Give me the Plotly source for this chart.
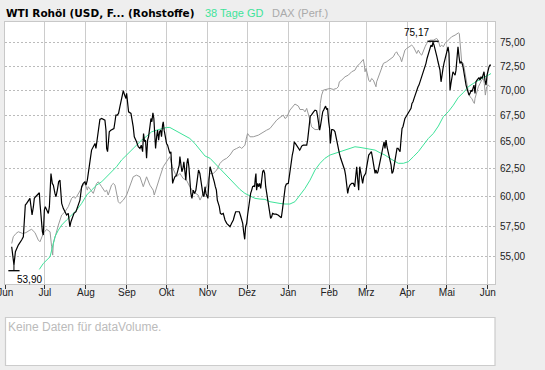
import numpy as np
import pandas as pd
import plotly.graph_objects as go

START = pd.Timestamp("2005-06-01")

# --- WTI Rohöl (Schlusskurse), Tage seit 01.06.2005 ---
wti_tage = [4.9,5.6,6.6,7.7,9.9,12.4,13.7,14.5,15.2,16.2,17.5,18.7,19.5,20.3,21.3,22.0,23.0,24.3,25.8,26.3,27.1,28.1,28.8,29.6,30.3,31.3,32.6,33.4,33.9,34.6,35.6,36.4,37.6,38.4,39.4,40.4,41.4,41.9,42.7,43.9,45.2,46.4,47.7,48.9,49.7,51.0,52.0,53.5,55.3,56.5,57.8,59.0,60.3,61.1,62.1,62.8,63.6,64.6,65.3,66.6,67.9,68.6,69.1,69.9,70.9,71.6,72.9,74.2,75.4,76.2,76.7,77.4,78.2,78.7,79.9,81.2,82.2,83.0,83.7,84.7,85.7,86.7,87.5,88.3,89.3,90.3,91.3,91.8,92.5,93.3,95.1,95.8,96.8,97.6,98.3,99.3,100.6,101.9,102.9,103.9,104.6,105.4,106.1,106.9,107.7,108.4,109.4,110.2,110.9,111.7,112.4,112.9,113.7,114.5,115.2,116.0,116.7,117.5,118.2,119.0,119.5,120.2,121.0,122.0,122.8,123.8,124.5,125.3,126.1,126.6,127.3,128.3,129.6,130.8,131.6,132.1,132.8,133.6,134.4,135.1,135.9,136.6,137.4,138.1,138.9,139.6,140.4,141.2,142.2,143.2,144.2,145.2,146.2,147.2,
            148.1,148.8,149.6,150.3,151.1,151.8,152.6,153.3,154.1,154.9,155.6,156.4,157.4,158.1,158.9,159.7,160.4,161.2,161.9,162.7,163.7,164.9,166.2,167.5,168.7,170.0,171.2,172.5,173.5,174.3,175.5,177.0,177.8,178.8,179.6,180.3,181.1,181.8,182.6,183.3,184.1,184.9,185.6,186.4,187.1,187.9,188.6,189.1,189.6,190.1,190.9,191.7,192.4,193.2,193.9,194.7,195.4,196.2,197.0,197.7,198.5,199.2,200.0,200.7,201.5,202.2,203.3,204.8,206.3,207.8,208.8,209.6,210.3,211.1,211.8,212.6,214.1,214.8,215.6,216.4,217.1,217.9,218.6,219.4,220.4,221.1,221.9,222.7,223.4,224.2,225.4,228.0,228.7,229.5,230.0,230.7,231.5,232.2,233.2,234.3,235.5,236.3,237.0,237.8,238.5,239.3,240.1,240.8,241.6,242.3,243.1,243.8,244.6,245.3,245.9,246.4,246.9,247.6,248.6,249.4,250.1,250.9,251.6,252.7,253.7,254.7,255.7,256.7,257.4,258.2,259.0,259.7,260.7,
            262.0,263.3,264.3,265.0,265.8,266.6,267.3,268.1,268.8,269.6,270.3,271.1,271.9,272.6,273.4,274.1,274.9,275.9,276.9,277.6,278.4,279.2,279.7,280.4,281.2,281.9,282.7,283.4,284.2,285.0,285.7,286.5,287.2,288.0,288.7,289.5,290.3,291.0,291.8,292.5,293.3,294.0,294.8,295.5,296.3,297.1,297.8,298.6,299.3,300.1,300.8,301.6,302.3,303.1,303.9,304.6,305.4,306.1,306.9,307.6,308.4,309.2,309.9,310.7,311.4,312.2,312.9,313.7,314.4,315.2,316.0,316.7,317.5,318.2,319.0,319.7,320.5,321.3,322.0,322.8,323.5,324.3,325.0,325.8,326.5,327.3,328.1,328.8,329.6,330.3,331.1,331.8,332.6,333.3,334.1,334.9,335.6,336.4,337.1,337.9,338.6,339.4,340.2,340.9,341.7,342.4,343.2,343.9,344.7,345.5,346.2,347.0,347.7,348.5,349.2,350.0,350.7,351.5,352.3,353.0,353.8,354.5,355.3,356.0,356.8,357.5,358.3,359.1,359.8,360.6,361.3,362.1,362.8,363.6,364.4,365.1,365.9,366.6,367.4]
wti_kurs = [55.80,55.00,54.35,55.40,55.94,56.35,56.62,58.01,59.28,59.42,59.71,59.86,59.14,58.43,59.14,59.86,60.00,60.15,60.35,59.42,58.29,57.03,56.76,58.85,59.14,58.85,58.57,59.14,60.88,62.06,61.17,61.02,60.29,60.00,60.58,61.31,61.46,60.29,59.42,59.00,58.71,58.43,58.57,57.45,57.87,58.29,58.57,58.71,59.28,59.71,60.88,61.17,61.31,61.02,61.46,62.21,62.97,63.59,64.20,64.51,64.82,64.35,64.82,65.76,66.89,67.12,67.21,67.12,67.05,66.08,64.35,64.05,65.13,65.92,66.08,66.14,66.24,66.89,67.54,67.54,67.70,68.36,68.86,69.19,69.98,69.53,69.19,69.70,68.86,67.86,67.70,67.21,66.40,65.45,65.29,64.98,64.51,64.35,64.66,64.05,65.76,64.98,65.13,63.44,65.13,65.45,66.40,67.21,66.89,67.77,67.21,66.08,64.35,65.45,66.08,65.13,65.92,66.08,65.45,66.57,66.89,66.08,65.45,64.82,64.66,64.20,63.89,64.05,62.37,61.17,61.46,61.76,61.91,62.37,62.82,63.59,63.12,62.21,62.51,63.12,62.21,61.46,62.97,63.44,62.67,61.46,60.29,59.86,60.58,60.29,60.58,61.46,62.37,62.06,
            61.17,60.88,60.15,60.00,60.88,60.29,60.00,59.86,61.46,62.67,62.37,62.06,61.76,61.31,60.88,60.58,59.71,59.42,59.14,58.57,58.49,58.57,58.01,57.73,57.59,57.45,57.73,58.01,58.43,58.71,58.71,58.71,58.43,58.01,57.73,57.03,56.41,57.45,57.73,58.43,59.28,59.86,60.29,60.58,60.88,60.94,60.88,61.61,62.06,60.58,61.17,60.88,61.17,60.73,61.61,62.21,62.37,62.06,60.88,60.29,59.71,59.14,58.71,58.15,58.29,58.57,58.51,58.51,58.43,58.29,58.20,58.85,59.71,60.29,60.88,61.11,61.17,61.76,62.67,63.28,63.74,64.20,64.98,64.82,64.66,64.51,64.35,64.20,64.35,64.57,64.66,64.66,65.13,66.40,67.21,67.44,67.54,67.70,67.86,68.03,67.96,67.37,66.73,66.08,66.57,67.37,67.86,68.03,68.20,68.43,68.09,68.20,66.89,66.24,64.82,65.45,66.14,66.14,66.08,65.92,65.45,64.82,64.35,63.89,63.44,63.12,62.82,62.37,61.91,60.88,60.29,60.73,61.02,
            61.17,61.17,60.88,61.76,62.67,61.46,60.58,62.67,62.22,61.61,61.17,61.76,61.91,62.07,62.67,63.28,63.74,63.89,64.05,63.59,63.13,62.67,62.07,62.37,62.07,62.22,62.67,63.13,63.59,64.05,64.51,64.98,64.36,65.13,64.51,64.05,63.59,63.28,62.83,62.07,62.22,62.67,63.28,64.05,64.36,64.36,64.20,64.05,65.13,66.25,66.41,66.89,67.21,67.38,67.54,67.70,67.87,68.03,68.20,68.69,68.86,69.20,69.53,69.87,70.20,70.37,70.54,70.88,71.22,71.57,71.74,72.09,72.45,72.80,73.32,73.67,74.03,74.39,74.75,74.57,75.08,74.75,74.21,73.85,73.50,72.97,72.45,72.09,70.88,71.74,72.27,72.80,73.32,73.85,74.21,74.57,73.85,70.03,70.71,71.74,71.92,71.74,71.57,72.09,73.15,74.57,73.50,72.80,72.97,72.80,72.45,71.57,71.05,70.54,70.20,69.87,69.53,69.70,70.03,69.87,70.37,70.54,69.70,70.88,71.05,71.22,71.32,71.05,71.40,71.22,71.74,71.92,71.05,70.54,71.57,72.09,72.45,72.62,72.62]

# --- 38 Tage GD ---
gd_tage = [25.8,28.8,33.9,35.6,37.6,40.2,42.7,46.4,50.2,54.0,57.8,61.6,65.3,69.1,72.9,76.7,80.4,84.2,88.0,91.8,95.6,99.3,103.1,106.9,110.7,114.5,118.2,122.0,124.5,128.3,132.1,135.9,139.6,143.4,147.3,151.1,154.9,158.6,162.4,166.2,170.0,173.8,177.5,181.3,185.1,188.9,192.7,196.4,200.2,204.0,207.8,211.6,215.3,219.1,222.9,226.7,230.5,234.3,238.0,241.8,245.6,249.4,253.2,257.0,260.8,264.5,268.3,272.1,275.9,279.7,283.4,287.2,291.0,294.8,297.3,301.1,304.9,308.7,312.4,316.2,320.0,323.8,327.6,331.3,335.1,338.9,342.7,346.5,350.2,354.0,357.8,361.6,365.4,367.4]
gd_kurs = [54.00,54.47,55.00,55.80,56.62,57.17,57.59,58.01,58.43,58.85,59.42,60.15,60.58,61.02,61.31,61.76,62.21,62.67,63.28,63.74,64.20,64.66,65.13,65.50,65.92,66.08,66.24,66.34,66.34,66.08,65.76,65.50,65.29,64.82,64.25,63.65,63.44,62.97,62.51,62.06,61.61,61.17,60.64,60.29,60.06,59.86,59.80,59.77,59.57,59.48,59.42,59.37,59.37,59.57,60.15,60.73,61.46,62.37,62.97,63.44,63.74,63.89,64.05,64.26,64.36,64.51,64.45,64.36,64.27,64.20,63.95,63.74,63.43,63.13,62.98,62.98,63.13,63.59,64.05,64.67,65.29,65.77,66.48,67.38,67.87,68.52,69.30,69.78,70.37,70.71,71.05,71.32,71.57,71.74]

# --- DAX (Performance, auf WTI-Skala) ---
dax_tage = [4.9,6.1,8.2,9.9,13.2,15.7,18.7,20.0,22.5,25.0,26.3,28.8,31.3,33.9,35.1,35.9,36.4,37.6,40.2,42.7,45.2,47.7,50.2,51.5,52.7,54.0,56.5,59.0,60.3,62.1,62.8,65.3,66.6,69.1,70.4,72.9,75.4,76.7,77.9,80.4,81.7,83.0,84.2,85.5,86.7,89.3,91.8,94.3,96.8,99.3,101.9,104.4,106.9,109.4,111.9,112.7,114.5,117.0,119.5,122.0,124.5,126.3,128.3,129.6,132.1,134.6,137.1,139.6,142.2,144.7,145.9,
            147.3,149.8,152.3,154.9,157.4,159.9,162.4,164.9,167.5,170.0,172.5,175.0,177.5,178.8,181.3,182.6,183.3,185.1,187.6,191.4,195.2,197.7,200.2,202.7,205.3,207.8,210.3,211.6,212.8,215.3,217.9,219.1,221.7,222.9,225.4,226.7,228.0,229.2,230.5,231.7,234.3,236.8,237.5,238.3,239.3,240.6,243.1,245.6,248.1,250.6,251.9,252.7,254.4,257.0,259.5,260.7,
            262.0,264.5,265.8,268.3,270.8,271.6,272.1,272.9,273.9,274.9,275.9,277.1,278.4,279.7,280.4,280.9,282.2,283.4,284.7,286.0,288.5,291.0,293.5,294.8,296.0,297.3,298.6,299.8,301.1,302.3,303.6,306.1,307.4,308.7,309.9,311.2,312.4,313.7,315.0,316.2,317.5,318.7,321.3,323.8,326.3,327.6,328.8,330.1,331.3,332.6,335.1,337.6,340.2,342.7,343.4,343.9,344.4,345.2,346.5,347.7,349.0,350.2,351.5,352.8,354.0,354.8,355.3,356.5,357.8,359.1,360.3,361.6,362.3,363.1,364.1,365.4,366.6]
dax_kurs = [56.07,56.62,56.89,57.03,56.89,56.96,57.17,57.23,56.96,56.35,56.21,56.89,57.23,57.03,55.80,55.13,56.07,56.62,57.59,58.43,58.71,59.14,59.86,60.00,59.86,60.00,60.58,61.02,61.17,60.58,60.88,60.44,60.29,61.17,61.31,60.88,60.44,60.58,60.15,61.02,61.17,61.02,60.29,59.57,59.42,59.71,60.15,60.88,61.76,61.91,61.76,60.88,61.76,61.02,60.58,60.15,60.88,61.76,62.67,63.12,63.59,62.67,62.06,61.76,62.06,61.61,61.46,60.88,60.44,60.29,60.15,
            59.71,60.29,60.88,62.06,62.06,62.37,62.97,63.28,63.44,63.74,64.20,64.35,64.51,64.35,64.66,65.45,65.76,65.45,65.45,65.60,65.92,66.08,66.24,66.65,67.05,67.31,67.54,67.21,67.31,68.03,68.43,68.63,68.43,68.09,68.09,67.86,68.20,67.70,67.05,66.40,66.14,66.14,66.73,68.70,69.53,70.03,70.10,70.20,70.10,70.20,70.37,70.88,71.05,71.40,71.57,71.74,
            71.92,72.09,72.45,72.80,73.22,72.62,71.92,72.27,71.57,71.05,70.88,71.22,71.05,70.54,70.37,70.88,71.40,71.74,72.27,72.80,72.97,73.22,73.50,73.85,74.03,73.67,73.50,72.97,73.50,74.21,74.39,74.66,74.75,74.57,74.21,73.85,74.21,73.85,73.67,74.21,74.57,74.93,75.29,75.29,75.48,75.22,74.57,74.75,74.57,74.93,75.29,75.66,75.84,76.09,76.02,74.93,73.50,72.97,72.80,71.74,70.71,69.87,69.36,69.20,68.86,68.69,69.20,69.87,70.37,70.71,71.05,71.22,70.71,69.53,70.37,70.54,70.37]

# Tief / Hoch (Intraday) im Zeitraum
extrem_werte = [53.90, 75.17]
extrem_texte = ["53,90", "75,17"]

monats_starts = ["2005-06-01", "2005-07-01", "2005-08-01", "2005-09-01", "2005-10-01", "2005-11-01",
                 "2005-12-01", "2006-01-01", "2006-02-01", "2006-03-01", "2006-04-01", "2006-05-01", "2006-06-01"]
monats_namen = ["Jun", "Jul", "Aug", "Sep", "Okt", "Nov", "Dez", "Jan", "Feb", "Mrz", "Apr", "Mai", "Jun"]
y_ticks = [55, 57.5, 60, 62.5, 65, 67.5, 70, 72.5, 75]
y_tick_texte = ["55,00", "57,50", "60,00", "62,50", "65,00", "67,50", "70,00", "72,50", "75,00"]


def to_dates(tage):
    return START + pd.to_timedelta(np.array(tage), unit="D")


FONT = "Liberation Sans, Arial, sans-serif"
TITLE_FONT = "DejaVu Sans, Verdana, sans-serif"
GREEN = "#3ee39a"
GRAY_LINE = "#9a9a9a"

wti_x = to_dates(wti_tage)
gd_x = to_dates(gd_tage)
dax_x = to_dates(dax_tage)

fig = go.Figure()
fig.add_trace(go.Scatter(x=dax_x, y=dax_kurs, mode="lines", line=dict(color=GRAY_LINE, width=1), hoverinfo="skip"))
fig.add_trace(go.Scatter(x=gd_x, y=gd_kurs, mode="lines", line=dict(color=GREEN, width=1), hoverinfo="skip"))
fig.add_trace(go.Scatter(x=wti_x, y=wti_kurs, mode="lines", line=dict(color="#000000", width=1.2), hoverinfo="skip"))

# Extrem-Markierungen (Tief/Hoch)
i_min = int(np.argmin(wti_kurs))
i_max = int(np.argmax(wti_kurs))
annots = []
for idx, val, txt, lo in [(i_min, extrem_werte[0], extrem_texte[0], True), (i_max, extrem_werte[1], extrem_texte[1], False)]:
    xd = wti_x[idx]
    fig.add_trace(go.Scatter(x=[xd, xd], y=[wti_kurs[idx], val], mode="lines",
                             line=dict(color="#000000", width=1), hoverinfo="skip"))
    fig.add_trace(go.Scatter(x=[xd], y=[val], mode="markers",
                             marker=dict(symbol="line-ew-open", size=8, color="#000000",
                                         line=dict(color="#000000", width=1.3)),
                             hoverinfo="skip"))
    if lo:
        annots.append(dict(x=xd, y=np.log10(val), xref="x", yref="y", text=txt, showarrow=False,
                           xanchor="left", yanchor="top", xshift=1, yshift=-1,
                           font=dict(family=FONT, size=10, color="#000000")))
    else:
        annots.append(dict(x=xd, y=np.log10(val), xref="x", yref="y", text=txt, showarrow=False,
                           xanchor="right", yanchor="bottom", xshift=-2, yshift=1,
                           font=dict(family=FONT, size=10, color="#000000")))

# Titel / Legende
H_PLOT = 262.0
def py(pix):
    return (284.0 - pix) / H_PLOT
def px(pix):
    return (pix - 5.0) / 490.0

annots += [
    dict(x=px(4), y=py(13), xref="paper", yref="paper", text="<b>WTI Rohöl (USD, F... (Rohstoffe)</b>",
         showarrow=False, xanchor="left", yanchor="middle", font=dict(family=TITLE_FONT, size=10.5, color="#000000")),
    dict(x=px(203), y=py(13), xref="paper", yref="paper", text="38 Tage GD",
         showarrow=False, xanchor="left", yanchor="middle", font=dict(family=FONT, size=11, color=GREEN)),
    dict(x=px(270), y=py(13), xref="paper", yref="paper", text="DAX (Perf.)",
         showarrow=False, xanchor="left", yanchor="middle", font=dict(family=FONT, size=11, color="#aaaaaa")),
    dict(x=px(6), y=py(326.5), xref="paper", yref="paper", text="Keine Daten für dataVolume.",
         showarrow=False, xanchor="left", yanchor="middle", font=dict(family=FONT, size=12, color="#bbbbbb")),
]

shapes = [dict(type="rect", xref="paper", yref="paper", x0=px(5.5), x1=px(495), y0=py(317.5), y1=py(365.5),
               line=dict(color="#cccccc", width=1.2), fillcolor="#ffffff", layer="below")]

x_end = START + pd.Timedelta(days=370.4)
x_start = START - pd.Timedelta(hours=4)
fig.update_layout(
    width=545, height=370, autosize=False,
    margin=dict(l=5, r=50, t=22, b=86, pad=0),
    paper_bgcolor="#eeeeee", plot_bgcolor="#ffffff",
    showlegend=False,
    annotations=annots, shapes=shapes,
    font=dict(family=FONT, size=10, color="#222222"),
)
fig.update_xaxes(
    type="date", range=[x_start, x_end], automargin=False,
    tickvals=pd.to_datetime(monats_starts), ticktext=monats_namen,
    ticklabeloverflow="allow",
    showgrid=True, gridcolor="#cccccc", gridwidth=1,
    showline=True, linecolor="#c8c8c8", linewidth=1, mirror=True,
    ticks="outside", ticklen=4, tickcolor="#333333", tickwidth=1,
    ticklabelstandoff=-5,
    tickfont=dict(family=FONT, size=10, color="#222222"),
    zeroline=False,
)
fig.update_yaxes(
    type="log", range=[np.log10(52.87), np.log10(77.30)], side="right", automargin=False,
    tickvals=y_ticks, ticktext=y_tick_texte,
    showgrid=True, gridcolor="#bbbbbb", gridwidth=1, griddash="2px,2px",
    showline=True, linecolor="#c8c8c8", linewidth=1, mirror=True,
    ticks="", ticklabelstandoff=2,
    tickfont=dict(family=FONT, size=10, color="#222222"),
    zeroline=False,
)

fig.write_html("out.html", config={"displayModeBar": False},
               post_script="document.body.style.margin='0';document.body.style.background='#eeeeee';")
